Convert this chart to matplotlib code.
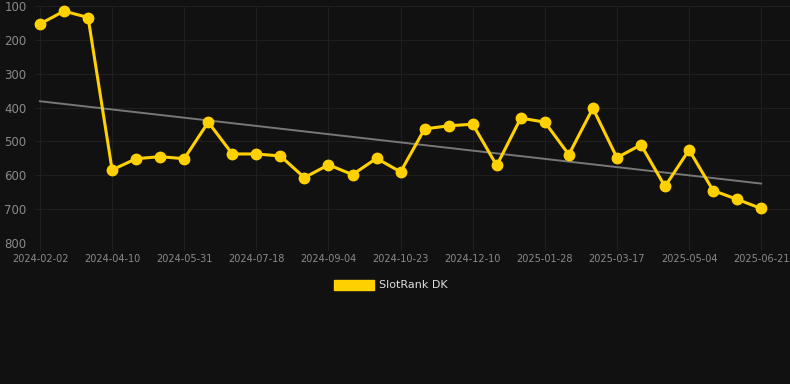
import numpy as np
import matplotlib.pyplot as plt
from matplotlib.patches import Patch

dates = [
    "2024-02-02", "2024-02-25", "2024-03-18", "2024-04-10", "2024-04-27",
    "2024-05-14", "2024-05-31", "2024-06-16", "2024-07-02", "2024-07-18",
    "2024-08-03", "2024-08-19", "2024-09-04", "2024-09-20", "2024-10-07",
    "2024-10-23", "2024-11-08", "2024-11-24", "2024-12-10", "2024-12-26",
    "2025-01-12", "2025-01-28", "2025-02-13", "2025-03-01", "2025-03-17",
    "2025-04-02", "2025-04-18", "2025-05-04", "2025-05-20", "2025-06-05",
    "2025-06-21",
]
rank = [
    153, 115, 134, 584, 551, 545, 551, 443, 537, 537,
    543, 607, 569, 598, 550, 590, 463, 454, 449, 571,
    431, 443, 539, 402, 548, 510, 633, 525, 645, 671,
    698,
]
y_ticks = [100, 200, 300, 400, 500, 600, 700, 800]

bg = "#111111"
gold = "#ffd100"

x = np.arange(len(dates))
# linear trend over the ranks
slope, intercept = np.polyfit(x, rank, 1)
trend = slope * x + intercept

fig = plt.figure(figsize=(7.9, 3.84), dpi=100, facecolor=bg)
ax = fig.add_axes([35 / 790, (384 - 243) / 384, 755 / 790, 237 / 384])
ax.set_facecolor(bg)

ax.plot(x, trend, color="#777777", linewidth=1.4, zorder=2)
ax.plot(x, rank, color=gold, linewidth=2.2, marker="o",
        markersize=7.5, zorder=3, clip_on=False)

ax.set_ylim(800, 100)
ax.set_xlim(-5 / 24.03, 31.2)
ax.set_yticks(y_ticks)
ax.set_xticks(x[::3])
ax.set_xticklabels(dates[::3])

ax.grid(True, color="#202020", linewidth=0.7)
for side in ax.spines.values():
    side.set_visible(False)
ax.tick_params(axis="y", length=0, colors="#8a8a8a", labelsize=8.5, pad=6)
ax.tick_params(axis="x", length=5, color="#202020", colors="#8a8a8a",
               labelsize=7, pad=3)

fig.legend(handles=[Patch(facecolor=gold, edgecolor=gold)],
           labels=["SlotRank DK"], loc="center",
           bbox_to_anchor=(391 / 790, 1 - 285 / 384), frameon=False,
           fontsize=8, labelcolor="#dddddd", handlelength=3.6,
           handleheight=1.0, handletextpad=0.5)

fig.savefig("out.png", facecolor=bg)
